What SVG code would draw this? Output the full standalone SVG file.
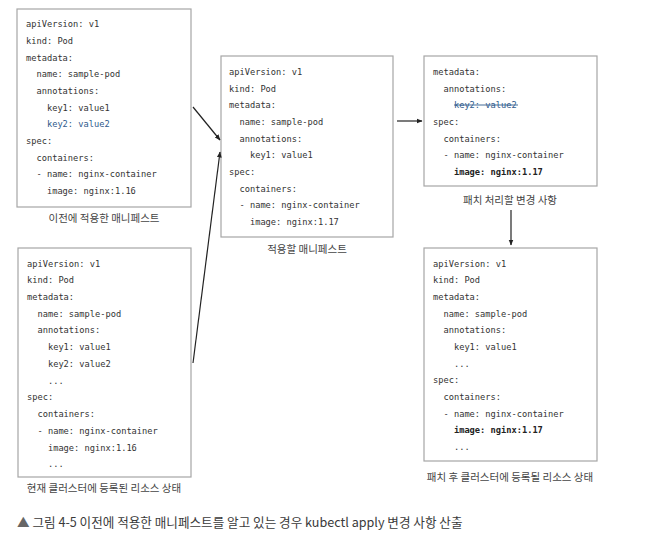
<svg xmlns="http://www.w3.org/2000/svg" width="648" height="552" viewBox="0 0 648 552">
<style>
.box{fill:#fff;stroke:#a6a6a6;stroke-width:1.2}
.code{font-family:"DejaVu Sans Mono","Liberation Mono",monospace;font-size:8.7px;fill:#333;white-space:pre}
.blue{fill:#2f5b8c}
.b{font-weight:bold;fill:#222}
.cap{font-family:"Noto Sans CJK KR","Noto Sans",sans-serif;font-size:10.5px;fill:#444;text-anchor:middle}
.fig{font-family:"Noto Sans CJK KR","Noto Sans",sans-serif;font-size:12.6px;fill:#3a3a3a}
.conn{stroke:#222;stroke-width:1.2;fill:none;marker-end:url(#ah)}
</style>
<defs>
<marker id="ah" viewBox="0 0 10 10" refX="9" refY="5" markerWidth="6" markerHeight="6" orient="auto" markerUnits="userSpaceOnUse">
<path d="M0,1 L10,5 L0,9 z" fill="#222"/>
</marker>
</defs>
<rect width="648" height="552" fill="#fff"/>

<g id="previous-manifest">
<rect class="box" x="17" y="9" width="174" height="198"/>
<text class="code" x="26" y="27">apiVersion: v1</text>
<text class="code" x="26" y="44">kind: Pod</text>
<text class="code" x="26" y="61">metadata:</text>
<text class="code" x="26" y="77">  name: sample-pod</text>
<text class="code" x="26" y="94">  annotations:</text>
<text class="code" x="26" y="111">    key1: value1</text>
<text class="code blue" x="26" y="127">    key2: value2</text>
<text class="code" x="26" y="144">spec:</text>
<text class="code" x="26" y="161">  containers:</text>
<text class="code" x="26" y="177">  - name: nginx-container</text>
<text class="code" x="26" y="194">    image: nginx:1.16</text>
<text class="cap" x="104" y="222">이전에 적용한 매니페스트</text>
</g>

<g id="current-state">
<rect class="box" x="18" y="248" width="173" height="229"/>
<text class="code" x="27" y="267">apiVersion: v1</text>
<text class="code" x="27" y="283">kind: Pod</text>
<text class="code" x="27" y="300">metadata:</text>
<text class="code" x="27" y="317">  name: sample-pod</text>
<text class="code" x="27" y="333">  annotations:</text>
<text class="code" x="27" y="350">    key1: value1</text>
<text class="code" x="27" y="367">    key2: value2</text>
<text class="code" x="27" y="384">    ...</text>
<text class="code" x="27" y="400">spec:</text>
<text class="code" x="27" y="417">  containers:</text>
<text class="code" x="27" y="434">  - name: nginx-container</text>
<text class="code" x="27" y="451">    image: nginx:1.16</text>
<text class="code" x="27" y="467">    ...</text>
<text class="cap" x="104" y="492">현재 클러스터에 등록된 리소스 상태</text>
</g>

<g id="manifest-to-apply">
<rect class="box" x="221" y="56" width="172" height="181"/>
<text class="code" x="229" y="75">apiVersion: v1</text>
<text class="code" x="229" y="92">kind: Pod</text>
<text class="code" x="229" y="108">metadata:</text>
<text class="code" x="229" y="125">  name: sample-pod</text>
<text class="code" x="229" y="142">  annotations:</text>
<text class="code" x="229" y="158">    key1: value1</text>
<text class="code" x="229" y="175">spec:</text>
<text class="code" x="229" y="192">  containers:</text>
<text class="code" x="229" y="208">  - name: nginx-container</text>
<text class="code" x="229" y="225">    image: nginx:1.17</text>
<text class="cap" x="307" y="253">적용할 매니페스트</text>
</g>

<g id="patch-changes">
<rect class="box" x="424" y="56" width="173" height="130"/>
<text class="code" x="433" y="75">metadata:</text>
<text class="code" x="433" y="92">  annotations:</text>
<text class="code blue" x="433" y="108">    key2: value2</text>
<line x1="454" y1="105" x2="518" y2="105" stroke="#2f5b8c" stroke-width="0.9"/>
<text class="code" x="433" y="125">spec:</text>
<text class="code" x="433" y="142">  containers:</text>
<text class="code" x="433" y="158">  - name: nginx-container</text>
<text class="code b" x="433" y="175">    image: nginx:1.17</text>
<text class="cap" x="510" y="204">패치 처리할 변경 사항</text>
</g>

<g id="patched-state">
<rect class="box" x="424" y="248" width="173" height="213"/>
<text class="code" x="433" y="267">apiVersion: v1</text>
<text class="code" x="433" y="283">kind: Pod</text>
<text class="code" x="433" y="300">metadata:</text>
<text class="code" x="433" y="317">  name: sample-pod</text>
<text class="code" x="433" y="333">  annotations:</text>
<text class="code" x="433" y="350">    key1: value1</text>
<text class="code" x="433" y="367">    ...</text>
<text class="code" x="433" y="383">spec:</text>
<text class="code" x="433" y="400">  containers:</text>
<text class="code" x="433" y="417">  - name: nginx-container</text>
<text class="code b" x="433" y="433">    image: nginx:1.17</text>
<text class="code" x="433" y="450">    ...</text>
<text class="cap" x="510" y="481">패치 후 클러스터에 등록될 리소스 상태</text>
</g>

<g id="connectors">
<line class="conn" x1="193" y1="107" x2="220" y2="140"/>
<line class="conn" x1="193" y1="363" x2="220" y2="152"/>
<line class="conn" x1="397" y1="121" x2="422" y2="121"/>
<line class="conn" x1="511" y1="210" x2="511" y2="245"/>
</g>

<g id="figure-caption">
<text class="fig" x="17" y="527"><tspan fill="#666">▲</tspan> 그림 4-5 이전에 적용한 매니페스트를 알고 있는 경우 kubectl apply 변경 사항 산출</text>
</g>
</svg>
